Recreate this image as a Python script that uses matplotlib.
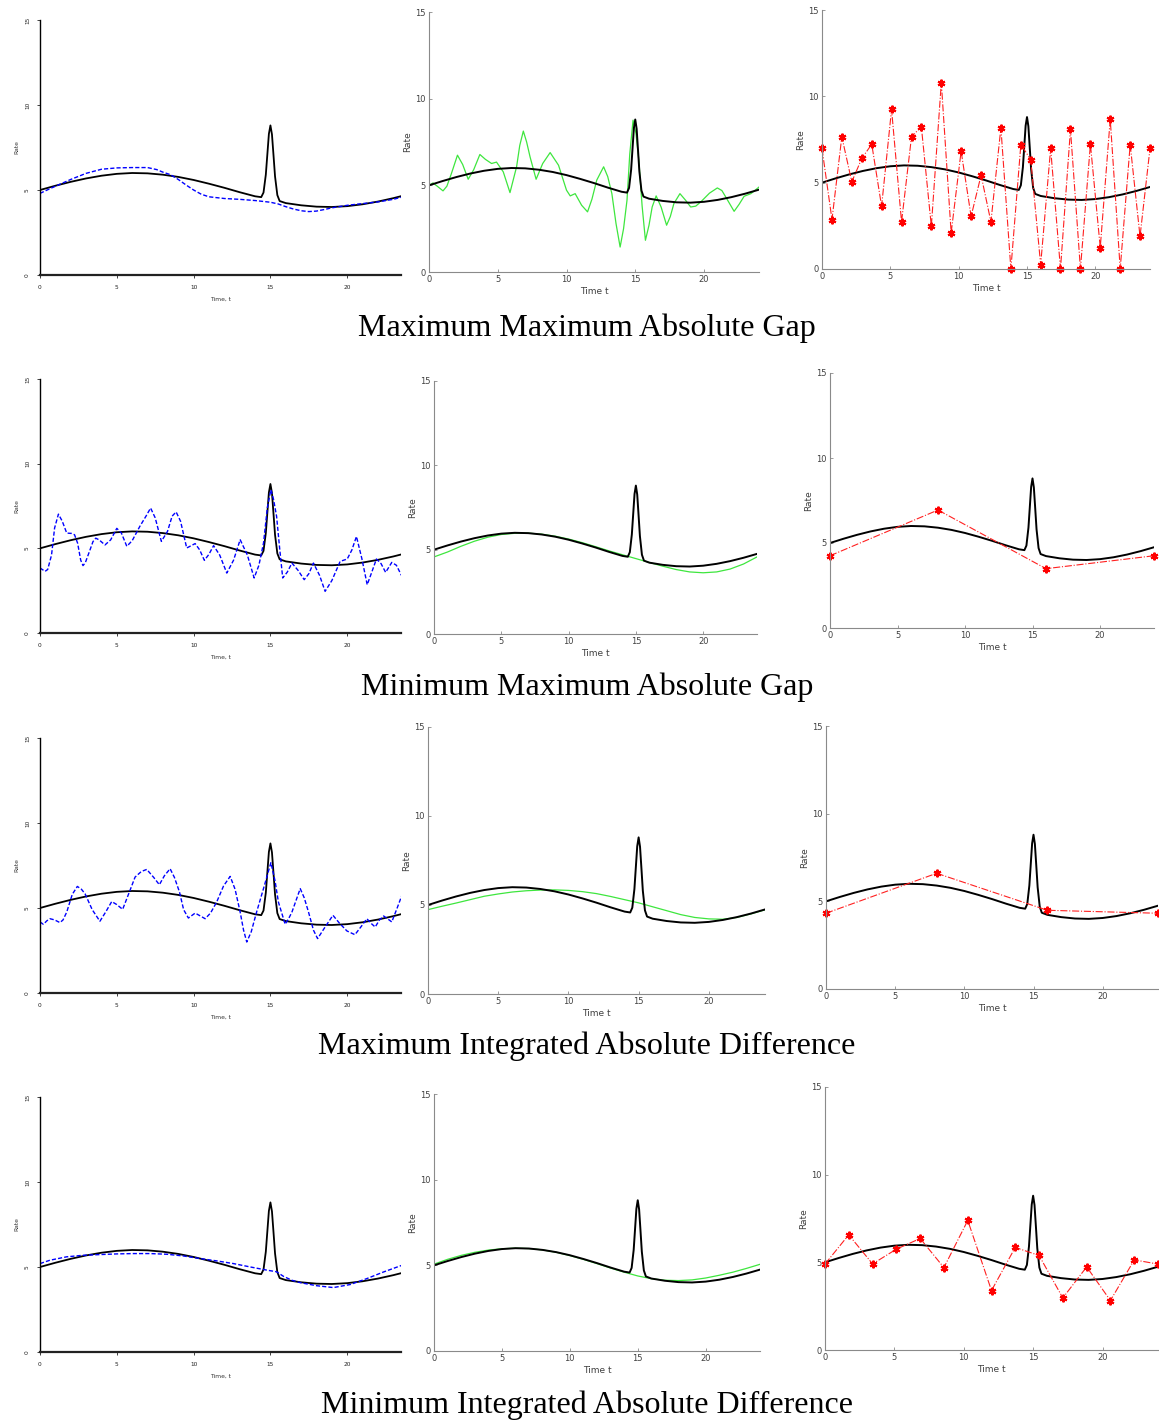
import numpy as np
import matplotlib
matplotlib.use('Agg')
from matplotlib import pyplot as plt

W, H = 1159, 1424

# true rate curve (shared by every panel)
truth = [(0, 5.00), (1, 5.25), (2, 5.48), (3, 5.68), (4, 5.84), (5, 5.95), (6, 6.00), (7, 5.98),
         (8, 5.90), (9, 5.77), (10, 5.59), (11, 5.37), (12, 5.13), (13, 4.87), (14, 4.63),
         (14.4, 4.58), (14.55, 4.85), (14.7, 5.90), (14.8, 7.10), (14.9, 8.30), (15.0, 8.80),
         (15.1, 8.27), (15.2, 7.05), (15.3, 5.80), (15.45, 4.70), (15.6, 4.35), (16, 4.23),
         (17, 4.10), (18, 4.02), (19, 4.00), (20, 4.05), (21, 4.16), (22, 4.32), (23, 4.52), (24, 4.75)]

# column 1: blue dashed estimates
blue_1 = [(0, 4.8), (0.7, 5.1), (1, 5.22), (2, 5.62), (3, 5.98), (4, 6.22), (5, 6.3), (6, 6.32), (7, 6.32),
          (7.6, 6.2), (8, 6.05), (8.5, 5.9), (9, 5.62), (9.5, 5.3), (10, 5.0), (10.5, 4.75), (11, 4.6),
          (12, 4.5), (13, 4.45), (14, 4.38), (15, 4.28), (15.5, 4.18), (16, 4.02), (16.5, 3.88), (17, 3.78),
          (17.5, 3.73), (18, 3.76), (18.5, 3.85), (19, 3.95), (20, 4.1), (21, 4.2), (22, 4.3), (23, 4.45),
          (23.5, 4.57)]
blue_2 = [(0, 3.84), (0.15, 3.75), (0.33, 3.64), (0.5, 3.75), (0.75, 4.6), (0.95, 6.2), (1.2, 7.02),
          (1.45, 6.6), (1.74, 5.9), (2.06, 5.88), (2.25, 5.8), (2.45, 5.3), (2.65, 4.3), (2.8, 3.98),
          (2.95, 4.15), (3.26, 4.92), (3.45, 5.4), (3.63, 5.6), (3.85, 5.5), (4.23, 5.2), (4.6, 5.5),
          (5.0, 6.18), (5.3, 5.9), (5.65, 5.12), (6.0, 5.45), (6.5, 6.3), (6.9, 6.9), (7.2, 7.38),
          (7.5, 6.8), (7.9, 5.41), (8.3, 6.0), (8.6, 6.9), (8.86, 7.15), (9.15, 6.6), (9.55, 5.02),
          (10.1, 5.28), (10.4, 4.9), (10.7, 4.29), (11.0, 4.65), (11.3, 5.16), (11.7, 4.6), (12.16, 3.54),
          (12.6, 4.3), (13.03, 5.51), (13.5, 4.6), (13.94, 3.25), (14.25, 4.0), (14.55, 5.31), (14.8, 7.4),
          (15.03, 8.46), (15.2, 7.9), (15.4, 6.9), (15.6, 5.0), (15.8, 3.25), (16.1, 3.6), (16.4, 4.13),
          (16.8, 3.7), (17.2, 3.15), (17.5, 3.5), (17.8, 4.13), (18.2, 3.4), (18.56, 2.46), (19.0, 3.1),
          (19.54, 4.23), (20.0, 4.37), (20.3, 4.9), (20.6, 5.7), (20.95, 4.4), (21.3, 2.85), (21.6, 3.6),
          (21.9, 4.37), (22.2, 4.1), (22.5, 3.58), (22.9, 4.17), (23.2, 4.0), (23.56, 3.35)]
blue_3 = [(0, 4.18), (0.22, 4.04), (0.45, 4.25), (0.65, 4.37), (0.95, 4.3), (1.3, 4.14), (1.5, 4.3),
          (1.74, 4.76), (2.1, 5.8), (2.43, 6.27), (2.7, 6.1), (2.93, 5.84), (3.4, 4.9), (3.9, 4.22),
          (4.3, 4.8), (4.67, 5.38), (5.0, 5.2), (5.38, 4.92), (5.8, 5.9), (6.19, 6.82), (6.6, 7.15),
          (6.95, 7.27), (7.4, 6.8), (7.77, 6.37), (8.1, 6.9), (8.47, 7.31), (8.75, 6.8), (9.08, 5.94),
          (9.35, 4.9), (9.66, 4.41), (10.1, 4.7), (10.4, 4.55), (10.75, 4.37), (11.1, 4.7), (11.5, 5.35),
          (11.95, 6.3), (12.38, 6.86), (12.7, 6.1), (13.03, 4.76), (13.25, 3.7), (13.46, 3.0), (13.75, 3.6),
          (14.1, 4.76), (14.6, 6.3), (15.03, 7.67), (15.3, 6.6), (15.52, 5.35), (15.96, 4.04), (16.2, 4.4),
          (16.4, 4.76), (16.94, 6.14), (17.2, 5.6), (17.48, 4.76), (17.8, 3.7), (18.07, 3.2), (18.5, 3.8),
          (19.07, 4.57), (19.5, 4.1), (19.98, 3.65), (20.5, 3.43), (20.9, 3.9), (21.28, 4.37), (21.55, 4.1),
          (21.82, 3.88), (22.1, 4.3), (22.37, 4.53), (22.65, 4.35), (22.9, 4.18), (23.25, 5.0), (23.56, 5.75)]
blue_4 = [(0, 5.2), (0.65, 5.4), (1.74, 5.6), (2.82, 5.69), (3.9, 5.73), (5.0, 5.77), (6.08, 5.79),
          (7.17, 5.79), (8.25, 5.75), (9.33, 5.65), (10.4, 5.5), (11.5, 5.36), (12.6, 5.2), (13.7, 5.0),
          (14.8, 4.81), (15.4, 4.72), (15.85, 4.45), (16.4, 4.22), (16.94, 4.08), (18.0, 3.9), (19.1, 3.79),
          (20.2, 3.97), (21.28, 4.32), (22.37, 4.71), (23.56, 5.1)]

# column 2: green estimates
green_1 = [(0, 5.0), (0.29, 5.14), (0.6, 4.95), (1.02, 4.68), (1.3, 4.95), (1.63, 5.68), (2.07, 6.74),
           (2.45, 6.2), (2.85, 5.35), (3.25, 5.9), (3.7, 6.78), (4.1, 6.5), (4.55, 6.26), (4.91, 6.34),
           (5.4, 5.78), (5.89, 4.58), (6.37, 6.07), (6.6, 7.3), (6.86, 8.13), (7.1, 7.5), (7.35, 6.64),
           (7.79, 5.35), (8.27, 6.26), (8.81, 6.89), (9.42, 6.16), (10.0, 4.72), (10.27, 4.39), (10.63, 4.52),
           (11.1, 3.85), (11.53, 3.47), (11.85, 4.2), (12.2, 5.3), (12.7, 6.07), (13.0, 5.5), (13.3, 4.52),
           (13.6, 2.8), (13.9, 1.44), (14.15, 2.5), (14.4, 4.14), (14.6, 6.8), (14.84, 8.76), (15.05, 8.0),
           (15.26, 6.45), (15.5, 3.8), (15.74, 1.83), (16.0, 2.7), (16.23, 3.75), (16.52, 4.39), (16.88, 3.75),
           (17.28, 2.7), (17.55, 3.2), (17.81, 3.95), (18.25, 4.52), (18.66, 4.14), (19.03, 3.75), (19.4, 3.8),
           (19.76, 4.04), (20.4, 4.55), (20.97, 4.85), (21.3, 4.7), (21.58, 4.33), (22.19, 3.5), (22.55, 3.9),
           (22.92, 4.37), (23.41, 4.52), (24.0, 4.9)]
green_2 = [(0, 4.57), (1, 4.86), (2, 5.2), (3, 5.5), (4, 5.74), (5, 5.9), (6, 5.97), (7, 5.98), (8, 5.92),
           (9, 5.8), (10, 5.63), (11, 5.42), (12, 5.18), (13, 4.93), (14, 4.7), (15, 4.47), (16, 4.24),
           (17, 4.02), (18, 3.82), (19, 3.68), (20, 3.63), (21, 3.68), (22, 3.85), (23, 4.15), (24, 4.57)]
green_3 = [(0, 4.74), (1, 4.93), (2, 5.11), (3, 5.3), (4, 5.49), (5, 5.62), (6, 5.73), (7, 5.8), (8, 5.84),
           (9, 5.85), (10, 5.82), (11, 5.75), (12, 5.64), (13, 5.48), (14, 5.3), (15, 5.12), (16, 4.9),
           (17, 4.68), (18, 4.46), (19, 4.3), (20, 4.22), (21, 4.2), (22, 4.3), (23, 4.5), (24, 4.73)]
green_4 = [(0, 5.07), (1, 5.35), (2, 5.58), (3, 5.76), (4, 5.89), (5, 5.97), (6, 6.0), (7, 5.98), (8, 5.9),
           (9, 5.76), (10, 5.57), (11, 5.35), (12, 5.1), (13, 4.84), (14, 4.6), (15, 4.38), (16, 4.22),
           (17, 4.13), (18, 4.11), (19, 4.15), (20, 4.26), (21, 4.42), (22, 4.6), (23, 4.82), (24, 5.06)]

# column 3: red piecewise estimates
red_t_1 = [0, 0.73, 1.45, 2.18, 2.91, 3.64, 4.36, 5.09, 5.82, 6.55, 7.27, 8.0, 8.73, 9.45, 10.18, 10.91, 11.64,
           12.36, 13.09, 13.82, 14.55, 15.27, 16.0, 16.73, 17.45, 18.18, 18.91, 19.64, 20.36, 21.09, 21.82,
           22.55, 23.27, 24.0]
red_y_1 = [6.98, 2.86, 7.66, 5.05, 6.4, 7.23, 3.63, 9.24, 2.73, 7.66, 8.24, 2.47, 10.8, 2.09, 6.82, 3.05, 5.43,
           2.73, 8.18, 0.0, 7.21, 6.34, 0.25, 6.98, 0.0, 8.08, 0.0, 7.23, 1.24, 8.68, 0.0, 7.21, 1.89, 6.98]
red_t_2 = [0, 8, 16, 24]
red_y_2 = [4.25, 6.94, 3.49, 4.25]
red_t_3 = [0, 8, 16, 24]
red_y_3 = [4.32, 6.6, 4.49, 4.32]
red_t_4 = [0, 1.71, 3.43, 5.14, 6.86, 8.57, 10.29, 12.0, 13.71, 15.43, 17.14, 18.86, 20.57, 22.29, 24.0]
red_y_4 = [4.9, 6.57, 4.91, 5.75, 6.36, 4.7, 7.39, 3.39, 5.85, 5.39, 2.97, 4.74, 2.82, 5.14, 4.9]

row_titles = ['Maximum Maximum Absolute Gap', 'Minimum Maximum Absolute Gap',
              'Maximum Integrated Absolute Difference', 'Minimum Integrated Absolute Difference']

# panel boxes in pixels: (left, top, right, bottom)
boxes = [
    [(40, 20, 401, 275), (429, 12, 759, 272), (822, 10, 1150, 269)],
    [(40, 379, 401, 633), (434, 381, 757, 634), (830, 373, 1154, 628)],
    [(40, 738, 401, 993), (428, 727, 765, 994), (826, 726, 1158, 989)],
    [(40, 1097, 401, 1352), (434, 1094, 760, 1351), (825, 1087, 1158, 1350)],
]
title_y = [328, 687, 1046, 1405]


def add_panel(fig, box):
    l, t, r, b = box
    return fig.add_axes([l / W, 1 - b / H, (r - l) / W, (b - t) / H])


def style_r(ax):
    """R base-graphics look for the first column"""
    ax.set_xlim(0, 23.5)
    ax.set_ylim(0, 15)
    for s in ['top', 'right']:
        ax.spines[s].set_visible(False)
    ax.spines['left'].set_linewidth(1.0)
    ax.spines['bottom'].set_linewidth(1.6)
    ax.spines['bottom'].set_color('#222222')
    ax.set_xticks([0, 5, 10, 15, 20])
    ax.set_yticks([0, 5, 10, 15])
    ax.tick_params(direction='out', length=2.2, width=0.6, labelsize=4.2, pad=5, colors='#222222')
    for lab in ax.get_yticklabels():
        lab.set_rotation(90)
        lab.set_va('center')
    ax.set_xlabel('Time, t', fontsize=4.3, labelpad=5, color='#333333')
    ax.set_ylabel('Rate', fontsize=4.3, labelpad=4, color='#333333')


def style_matlab(ax):
    """MATLAB look for the other two columns"""
    ax.set_xlim(0, 24)
    ax.set_ylim(0, 15)
    for s in ['top', 'right']:
        ax.spines[s].set_visible(False)
    for s in ['left', 'bottom']:
        ax.spines[s].set_color('#8a8a8a')
        ax.spines[s].set_linewidth(0.8)
    ax.set_xticks([0, 5, 10, 15, 20])
    ax.set_yticks([0, 5, 10, 15])
    ax.tick_params(direction='in', length=2.5, width=0.6, color='#8a8a8a', labelsize=6,
                   labelcolor='#404040', pad=2.5)
    ax.set_xlabel('Time t', fontsize=6.5, labelpad=1.5, color='#404040')
    ax.set_ylabel('Rate', fontsize=6.5, labelpad=2, color='#404040')


fig = plt.figure(figsize=(W / 100, H / 100), dpi=100)

tt, ty = zip(*truth)
blues = [blue_1, blue_2, blue_3, blue_4]
greens = [green_1, green_2, green_3, green_4]
reds = [(red_t_1, red_y_1), (red_t_2, red_y_2), (red_t_3, red_y_3), (red_t_4, red_y_4)]

for row in range(4):
    # column 1 (R)
    ax = add_panel(fig, boxes[row][0])
    bx, by = zip(*blues[row])
    ax.plot(tt, ty, color='black', lw=1.3)
    ax.plot(bx, by, color='#0000ff', lw=1.0, ls=(0, (3.0, 1.5)))
    style_r(ax)

    # column 2 (green)
    ax = add_panel(fig, boxes[row][1])
    gx, gy = zip(*greens[row])
    ax.plot(gx, gy, color='#3ee63e', lw=0.9)
    ax.plot(tt, ty, color='black', lw=1.4)
    style_matlab(ax)

    # column 3 (red)
    ax = add_panel(fig, boxes[row][2])
    rx, ry = reds[row]
    ax.plot(tt, ty, color='black', lw=1.4)
    ax.plot(rx, ry, color='#ff2020', lw=0.8, ls='-.', marker=(6, 2, 0), ms=5.5, mew=1.5,
            mec='#ff0000', clip_on=False)
    style_matlab(ax)

    fig.text(587 / W, 1 - title_y[row] / H, row_titles[row], ha='center', va='center',
             fontsize=23, family='Liberation Serif')

fig.savefig('out.png', dpi=100)
plt.close()
